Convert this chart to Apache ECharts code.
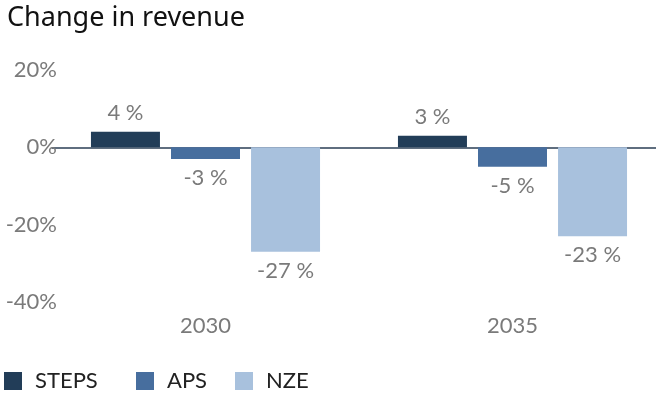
<!DOCTYPE html>
<html>
<head>
<meta charset="utf-8">
<script src="https://cdn.jsdelivr.net/npm/echarts@6/dist/echarts.min.js"></script>
<style>
  html, body { margin: 0; padding: 0; background: #fff; }
  #myChart { width: 656px; height: 396px; }
</style>
</head>
<body>
<div id="myChart"></div>
<script>
// data
const years = ['2030', '2035']
const steps = [4, 3]
const aps = [-3, -5]
const nze = [-27, -23]
const yTicks = [-40, -20, 0, 20]

const grey = '#7a7a7a'
const font = 'Lato'

// positive values get the label above the bar, negative ones below
function withLabels (arr) {
  return arr.map(v => ({
    value: v,
    label: { position: v >= 0 ? 'top' : 'bottom' }
  }))
}

function barSeries (name, arr, color) {
  return {
    name: name,
    type: 'bar',
    barWidth: 69,
    barGap: '16%',
    itemStyle: { color: color },
    label: {
      show: true,
      distance: 8,
      color: grey,
      fontFamily: font,
      fontSize: 22,
      formatter: p => p.value + ' %'
    },
    data: withLabels(arr)
  }
}

// the legend entries are not evenly spaced in the original, so one legend per entry
function legendAt (name, left) {
  return {
    left: left,
    top: 370,
    padding: 0,
    itemWidth: 18,
    itemHeight: 18,
    icon: 'rect',
    selectedMode: false,
    textStyle: { fontFamily: font, fontSize: 22, color: '#222', padding: [0, 0, 0, 8] },
    data: [name]
  }
}

let myChart = echarts.init(document.getElementById('myChart'))
myChart.setOption({
  animation: false,
  title: {
    text: 'Change in revenue',
    left: 2,
    top: 0,
    textStyle: { fontFamily: 'Noto Sans', fontSize: 27, fontWeight: 'normal', color: '#111' }
  },
  legend: [
    legendAt('STEPS', 4),
    legendAt('APS', 136),
    legendAt('NZE', 235)
  ],
  grid: { left: 52, width: 614, top: 70, bottom: 94, containLabel: false, outerBoundsMode: 'none' },
  xAxis: {
    type: 'category',
    data: years,
    axisLine: { onZero: true, lineStyle: { color: '#2b3f55', width: 1.5 } },
    axisTick: { show: false },
    axisLabel: { color: grey, fontFamily: font, fontSize: 22, margin: 13 },
    position: 'bottom'
  },
  yAxis: {
    type: 'value',
    min: yTicks[0],
    max: yTicks[yTicks.length - 1],
    interval: 20,
    offset: -11,
    splitLine: { show: false },
    axisLine: { show: false },
    axisTick: { show: false },
    axisLabel: { color: grey, fontFamily: font, fontSize: 22, margin: 6, formatter: '{value}%' }
  },
  series: [
    barSeries('STEPS', steps, '#223d58'),
    barSeries('APS', aps, '#476e9e'),
    barSeries('NZE', nze, '#a8c1dd')
  ]
})
</script>
</body>
</html>
